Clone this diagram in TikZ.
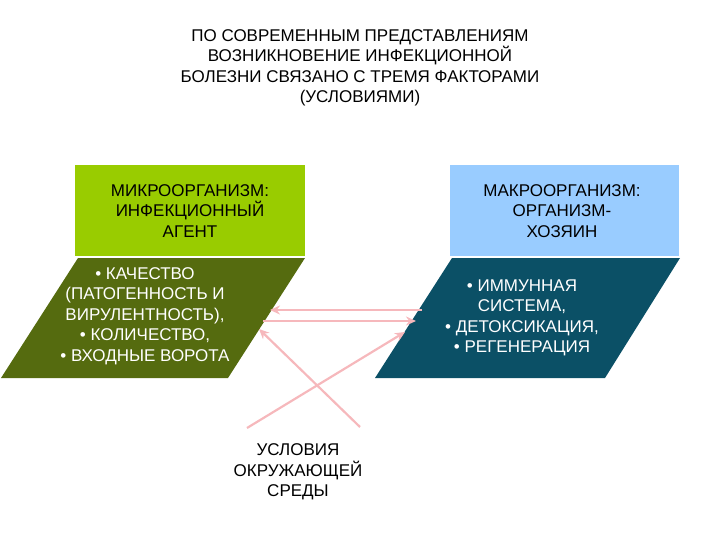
\documentclass[tikz,border=0pt]{standalone}
\usepackage{fontspec}
\setmainfont{Liberation Sans}
\usetikzlibrary{arrows.meta}
\definecolor{lgreen}{HTML}{99CC00}
\definecolor{olive}{HTML}{556B0F}
\definecolor{lblue}{HTML}{99CCFF}
\definecolor{teal}{HTML}{0B5066}
\definecolor{pinkl}{HTML}{F6B8BC}
\tikzset{txt/.style={align=center,font=\fontsize{17}{20.5}\selectfont,inner sep=0pt},
arr/.style={pinkl,line width=2.2pt,-{Stealth[length=10pt,width=9pt,open]}}}
\begin{document}
\begin{tikzpicture}[x=1pt,y=-1pt]
\useasboundingbox (0,0) rectangle (720,540);
\node[txt] (title) at (360,68) {ПО СОВРЕМЕННЫМ ПРЕДСТАВЛЕНИЯМ\\ВОЗНИКНОВЕНИЕ ИНФЕКЦИОННОЙ\\БОЛЕЗНИ СВЯЗАНО С ТРЕМЯ ФАКТОРАМИ\\(УСЛОВИЯМИ)};
\fill[lgreen] (75,165) rectangle (305,256);
\node[txt] (mic) at (190,211) {МИКРООРГАНИЗМ:\\ИНФЕКЦИОННЫЙ\\АГЕНТ};
\fill[lblue] (450,165) rectangle (679,256);
\node[txt] (mac) at (562,211) {МАКРООРГАНИЗМ:\\ОРГАНИЗМ-\\ХОЗЯИН};
\fill[olive] (78,258) -- (305,258) -- (228,378) -- (1,378) -- cycle;
\node[txt,white] (lp) at (145,316) {• КАЧЕСТВО\\(ПАТОГЕННОСТЬ И\\ВИРУЛЕНТНОСТЬ),\\• КОЛИЧЕСТВО,\\• ВХОДНЫЕ ВОРОТА};
\fill[teal] (452,258) -- (680,258) -- (605,378) -- (375,378) -- cycle;
\node[txt,white] (rp) at (522,318) {• ИММУННАЯ\\СИСТЕМА,\\• ДЕТОКСИКАЦИЯ,\\• РЕГЕНЕРАЦИЯ};
\node[txt] (env) at (298,472) {УСЛОВИЯ\\ОКРУЖАЮЩЕЙ\\СРЕДЫ};
\coordinate (a1) at (422,310); \coordinate (a2) at (270,310);
\coordinate (b1) at (263,321); \coordinate (b2) at (416,321);
\coordinate (c1) at (360,427); \coordinate (c2) at (259,329);
\coordinate (d1) at (247,428); \coordinate (d2) at (405,332);
\draw[arr] (a1) -- (a2);
\draw[arr] (b1) -- (b2);
\draw[arr] (c1) -- (c2);
\draw[arr] (d1) -- (d2);
\end{tikzpicture}
\end{document}
